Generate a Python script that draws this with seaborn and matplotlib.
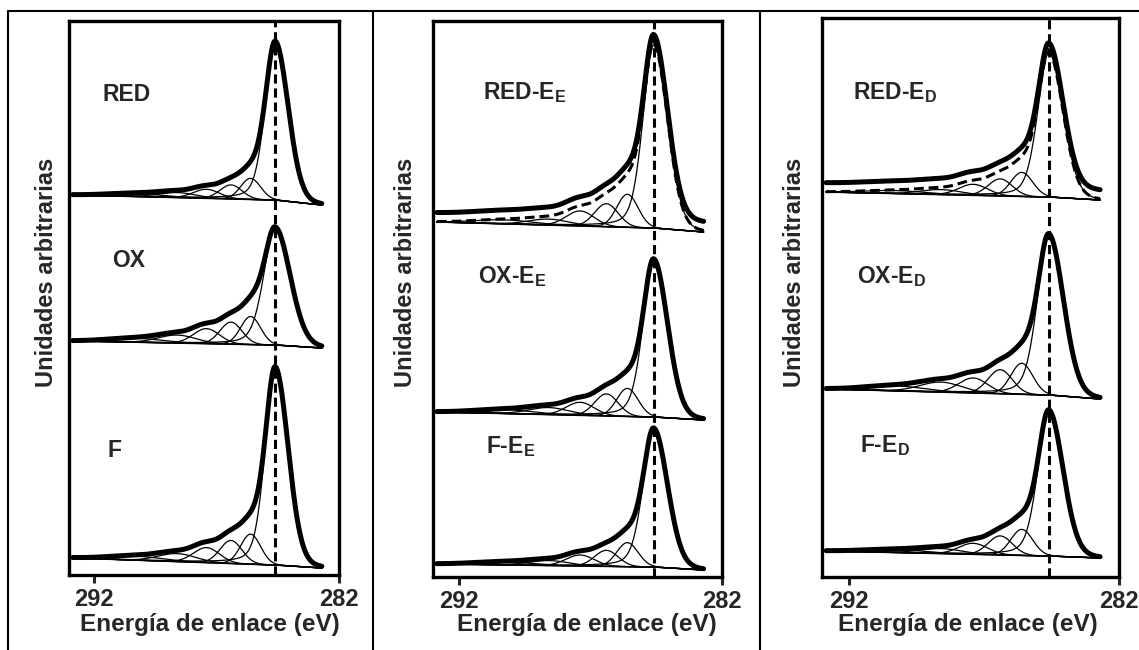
import numpy as np
import matplotlib
matplotlib.use("Agg")
import matplotlib.pyplot as plt
from matplotlib.lines import Line2D
import seaborn as sns

# ---------------- C 1s spectra: fitted components ----------------
sample_labels = ["RED", "OX", "F",
                 r"RED-E$_{\mathrm{E}}$", r"OX-E$_{\mathrm{E}}$", r"F-E$_{\mathrm{E}}$",
                 r"RED-E$_{\mathrm{D}}$", r"OX-E$_{\mathrm{D}}$", r"F-E$_{\mathrm{D}}$"]
panel_of_sample = [0, 0, 0, 1, 1, 1, 2, 2, 2]

energy_high = 292.85          # eV, start of the recorded window
energy_low = 282.7            # eV, end of the recorded window
graphitic_center = 284.6      # eV, main C=C component

# background (Shirley-type) levels at 282.7 / 284.6 / 292.85 eV
bg_energy = [282.7, 284.6, 292.85]
bg_level = [[370, 375, 380], [227, 230, 234], [7, 10, 17],
            [345, 349, 355], [157, 160, 165], [7, 10, 13],
            [377, 380, 385], [178, 182, 188], [19, 21, 26]]

# main component: height, half widths and Lorentzian share on each side
main_height = [158, 117, 197, 183, 157, 138, 144, 160, 145]
main_hwhm_high = [0.48, 0.55, 0.48, 0.48, 0.48, 0.48, 0.48, 0.50, 0.48]
main_hwhm_low = [0.62, 0.72, 0.62, 0.62, 0.62, 0.62, 0.62, 0.64, 0.62]
main_lorentz_high = 0.3
main_lorentz_low = 0.08

# oxygenated / satellite components
comp_center = [285.6, 286.4, 287.4, 288.6, 290.3]
comp_fwhm = [0.95, 1.05, 1.25, 1.8, 2.6]
comp_height = [[21, 14, 9, 5, 3],
               [28, 22, 15, 8, 4],
               [30, 23, 15, 8, 4],
               [33, 23, 15, 6, 4],
               [28, 22, 13, 7, 4],
               [24, 16, 11, 5, 3],
               [24, 17, 11, 5, 3],
               [31, 24, 15, 10, 5],
               [26, 19, 11, 5, 3]]

# measured curve minus fitted envelope (background mismatch)
data_offset = [0, 0, 0, 9, 0, 0, 9, 0, 0]

# label anchor (eV, intensity) for each spectrum
label_energy = [291.65, 291.25, 291.45, 291.1, 291.3, 291.0, 291.85, 291.7, 291.6]
label_level = [474, 308, 118, 478, 294, 124, 478, 294, 125]

x_ticks = [292, 282]
x_tick_labels = ["292", "282"]
x_title = "Energía de enlace (eV)"
y_title = "Unidades arbitrarias"

# ---------------- layout (pixels on a 1139 x 650 canvas) ----------------
W, H = 1139, 650
panel_left = [69, 433, 822]
panel_right = [339, 722, 1119]
panel_top = [21, 21, 18]
panel_bottom = [575, 577, 577]
ylabel_x = [47, 405, 795]
ylabel_y = 272
xlabel_x = [210, 587, 968]
xlabel_y = 625

sns.set_style("white")
plt.rcParams["font.family"] = ["Liberation Sans", "DejaVu Sans"]
plt.rcParams["font.weight"] = "bold"
plt.rcParams["mathtext.fontset"] = "custom"
plt.rcParams["mathtext.rm"] = "Liberation Sans:bold"
plt.rcParams["mathtext.it"] = "Liberation Sans:bold"
plt.rcParams["mathtext.bf"] = "Liberation Sans:bold"

fig = plt.figure(figsize=(W / 100, H / 100), dpi=100)


def fx(px):
    return px / W


def fy(py):
    return 1 - py / H


def split_voigt(e, center, height, w_high, w_low, eta_high, eta_low):
    d = e - center
    w = np.where(d >= 0, w_high, w_low)
    eta = np.where(d >= 0, eta_high, eta_low)
    r = (d / w) ** 2
    return height * ((1 - eta) * np.exp(-np.log(2) * r) + eta / (1 + r))


def gauss(e, center, height, fwhm):
    return height * np.exp(-4 * np.log(2) * ((e - center) / fwhm) ** 2)


axes = []
for p in range(3):
    ax = fig.add_axes([fx(panel_left[p]), fy(panel_bottom[p]),
                       fx(panel_right[p] - panel_left[p]),
                       (panel_bottom[p] - panel_top[p]) / H])
    ax.set_xlim(293.0, 282.0)
    ax.set_ylim(0, panel_bottom[p] - panel_top[p])
    axes.append(ax)

energy = np.linspace(energy_high, energy_low, 600)

for i, label in enumerate(sample_labels):
    ax = axes[panel_of_sample[i]]
    bg = np.interp(energy, bg_energy, bg_level[i])
    main = split_voigt(energy, graphitic_center, main_height[i],
                       main_hwhm_high[i], main_hwhm_low[i],
                       main_lorentz_high, main_lorentz_low)
    comps = [gauss(energy, c, h, w)
             for c, h, w in zip(comp_center, comp_height[i], comp_fwhm)]
    fit = bg + main + np.sum(comps, axis=0)
    measured = fit + data_offset[i]

    for comp in comps + [main]:
        sns.lineplot(x=energy, y=bg + comp, ax=ax, color="black", lw=0.9,
                     sort=False, estimator=None)
    sns.lineplot(x=energy, y=bg, ax=ax, color="black", lw=1.1,
                 sort=False, estimator=None)
    sns.lineplot(x=energy, y=measured, ax=ax, color="black", lw=3.6,
                 sort=False, estimator=None, solid_capstyle="round")
    sns.lineplot(x=energy, y=fit, ax=ax, color="black", lw=2.2,
                 linestyle=(0, (3.2, 1.6)), sort=False, estimator=None)

    ax.text(label_energy[i], label_level[i], label, fontsize=16.5,
            fontweight="bold", ha="left", va="baseline")

for p, ax in enumerate(axes):
    ax.axvline(graphitic_center, color="black", lw=2.2,
               linestyle=(0, (3.0, 1.6)))
    ax.set_xticks(x_ticks)
    ax.set_xticklabels(x_tick_labels)
    ax.set_yticks([])
    ax.set_xlabel("")
    ax.set_ylabel("")
    ax.tick_params(axis="x", direction="out", length=6, width=2.2,
                   pad=3, labelsize=17, bottom=True)
    for lab in ax.get_xticklabels():
        lab.set_fontweight("bold")
    for s in ax.spines.values():
        s.set_visible(True)
        s.set_linewidth(2.4)
        s.set_color("black")
    fig.text(fx(ylabel_x[p]), fy(ylabel_y), y_title, rotation=90,
             fontsize=17, fontweight="bold", ha="center", va="center")
    fig.text(fx(xlabel_x[p]), fy(xlabel_y), x_title,
             fontsize=17.5, fontweight="bold", ha="center", va="center")

# table frame around the three panels
frame = [([8, W], [11, 11]), ([8, 8], [11, H]),
         ([373, 373], [11, H]), ([760, 760], [11, H])]
for xs, ys in frame:
    fig.add_artist(Line2D([fx(v) for v in xs], [fy(v) for v in ys],
                          transform=fig.transFigure, color="black", lw=1.5))

fig.savefig("out.png", dpi=100)
